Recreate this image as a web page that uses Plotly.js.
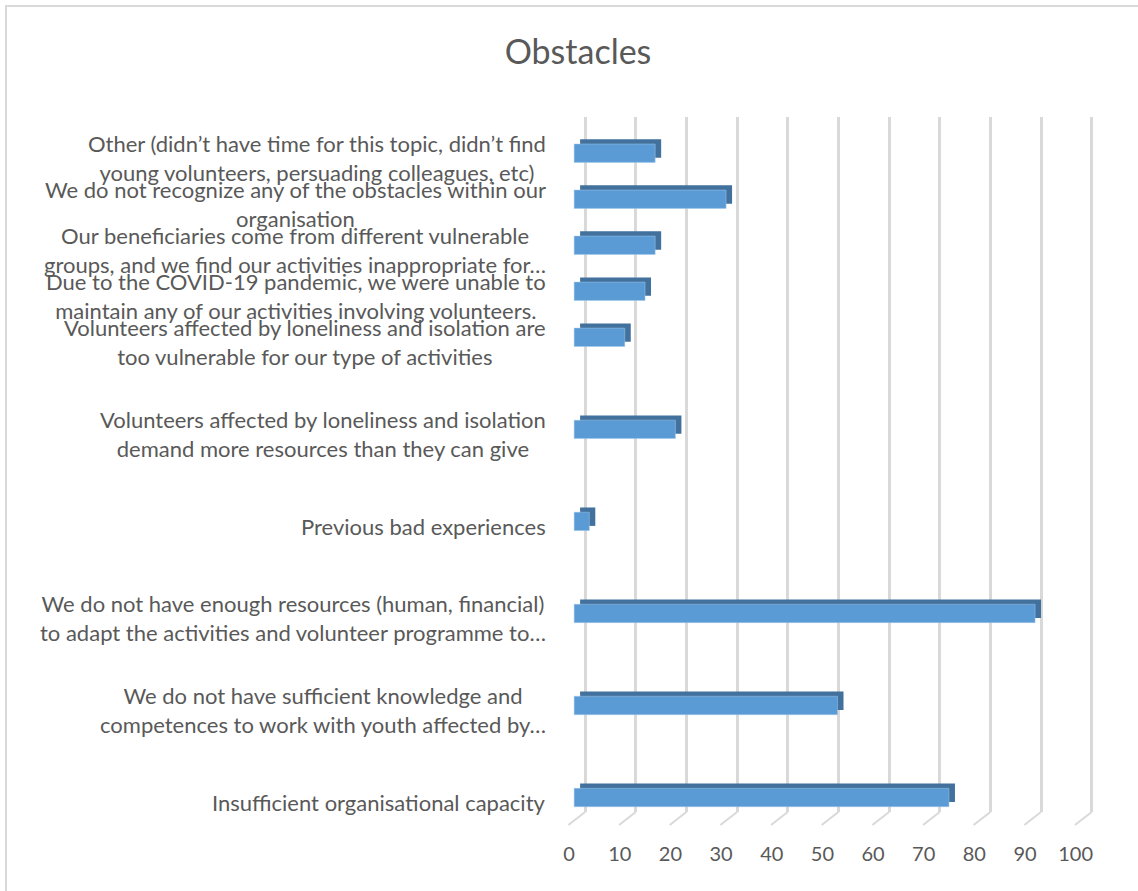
<!DOCTYPE html>
<html>
<head>
<meta charset="utf-8">
<script src="https://cdn.plot.ly/plotly-3.0.1.min.js"></script>
<style>
    body { margin: 0; background: #ffffff; overflow: hidden; }
    #chart { position: absolute; left: 0; top: 0; width: 1138px; height: 891px; }
    /* chart frame: only the left and top edges fall inside the picture */
    #frame {
        position: absolute; left: 5px; top: 5px; width: 1200px; height: 1000px;
        border-left: 2px solid #d9d9d9; border-top: 2px solid #d9d9d9;
        pointer-events: none;
    }
</style>
</head>
<body>
<div id="chart"></div>
<div id="frame"></div>
<script>
// Category slots, bottom to top (the empty slots are blank rows in the source sheet)
const labels = [
    'Insufficient organisational capacity',
    '',
    'We do not have sufficient knowledge and<br>competences to work with youth affected by…',
    '',
    'We do not have enough resources (human, financial)<br>to adapt the activities and volunteer programme to…',
    '',
    'Previous bad experiences',
    '',
    'Volunteers affected by loneliness and isolation<br>demand more resources than they can give',
    '',
    'Volunteers affected by loneliness and isolation are<br>too vulnerable for our type of activities',
    'Due to the COVID-19 pandemic, we were unable to<br>maintain any of our activities involving volunteers.',
    'Our beneficiaries come from different vulnerable<br>groups, and we find our activities inappropriate for…',
    'We do not recognize any of the obstacles within our<br>organisation',
    'Other (didn’t have time for this topic, didn’t find<br>young volunteers, persuading colleagues, etc)'
];
const values = [74, null, 52, null, 91, null, 3, null, 20, null, 10, 14, 16, 30, 16];
const ticks = [0, 10, 20, 30, 40, 50, 60, 70, 80, 90, 100];

const TEXT = '#595959';
const FRONT = '#5b9bd5';     // bar front face
const DEPTH = '#41719c';     // top / side faces
const GRID = '#d9d9d9';
const FONT = 'Lato, "Open Sans", sans-serif';

const slots = labels.map((_, i) => i);

// 3D look: a darker copy pushed up and to the right sits behind each bar
const depthTrace = {
    type: 'bar',
    orientation: 'h',
    x: values,
    y: slots,
    base: 1.18,
    width: 0.4,
    offset: -0.098,
    marker: { color: DEPTH },
    hoverinfo: 'skip'
};

const frontTrace = {
    type: 'bar',
    orientation: 'h',
    x: values,
    y: slots,
    width: 0.4,
    offset: -0.2,
    marker: { color: FRONT, line: { color: '#a3c6e8', width: 0.5 } }
};

// keeps the back-wall axis alive
const wallTrace = { type: 'scatter', x: [], y: [], xaxis: 'x2', yaxis: 'y', hoverinfo: 'skip' };

// floor lines running from the back wall to the front edge
const floorLines = ticks.map(v => ({
    type: 'line',
    xref: 'x2', yref: 'paper',
    x0: v, y0: 0,
    x1: v - 3.3, y1: -0.0187,
    line: { color: GRID, width: 2 }
}));

const labelNotes = labels
    .map((text, i) => ({ text, i }))
    .filter(d => d.text)
    .map(d => ({
        xref: 'paper', x: -0.03, xanchor: 'right',
        yref: 'y', y: d.i, yanchor: 'middle', yshift: -5,
        text: d.text,
        align: 'center',
        showarrow: false,
        font: { family: FONT, size: 22, color: TEXT }
    }));

const layout = {
    width: 1138,
    height: 891,
    margin: { l: 564, r: 32, t: 117, b: 79 },
    paper_bgcolor: '#ffffff',
    plot_bgcolor: 'rgba(0,0,0,0)',
    showlegend: false,
    barmode: 'overlay',
    title: {
        text: 'Obstacles',
        xref: 'container', x: 578 / 1138, xanchor: 'center',
        yref: 'container', y: 1 - 52.5 / 891, yanchor: 'middle',
        font: { family: FONT, size: 34, color: TEXT }
    },
    xaxis: {
        range: [-2, 105],
        tickvals: ticks,
        ticks: '',
        showgrid: false,
        zeroline: false,
        showline: false,
        ticklabelshift: -5,
        ticklabelstandoff: 28,
        tickfont: { family: FONT, size: 20, color: TEXT },
        fixedrange: true
    },
    xaxis2: {
        overlaying: 'x',
        anchor: 'y',
        range: [-4.17, 102.83],
        tickvals: ticks,
        showticklabels: false,
        showgrid: true,
        gridcolor: GRID,
        gridwidth: 2.5,
        zeroline: false,
        showline: false,
        fixedrange: true
    },
    yaxis: {
        range: [-0.315, 14.787],
        showgrid: false,
        zeroline: false,
        showline: false,
        showticklabels: false,
        fixedrange: true
    },
    shapes: floorLines,
    annotations: labelNotes
};

Plotly.newPlot('chart', [wallTrace, depthTrace, frontTrace], layout, {
    displayModeBar: false,
    responsive: false
});
</script>
</body>
</html>
